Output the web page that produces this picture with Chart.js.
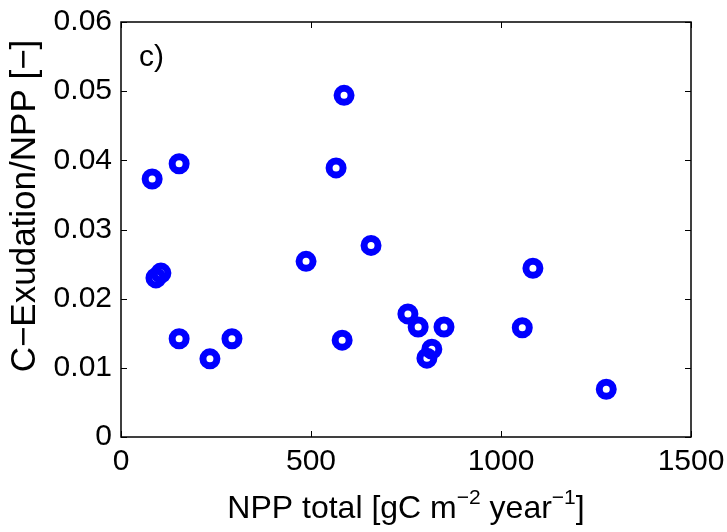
<!DOCTYPE html>
<html>
<head>
<meta charset="utf-8">
<script src="https://cdn.jsdelivr.net/npm/chart.js@4/dist/chart.umd.min.js"></script>
<style>
  html, body { margin: 0; padding: 0; background: #fff; }
  #wrap { width: 727px; height: 532px; }
</style>
</head>
<body>
<div id="wrap"><canvas id="myChart" width="727" height="532"></canvas></div>
<script>
// NPP total [gC m-2 year-1] and exudation fraction
var nppTotal = [82, 153, 92, 105, 153, 234, 292, 487, 582, 658, 587, 566, 755, 782, 850, 818, 805, 1056, 1084, 1277];
var exudFrac = [0.0373, 0.0395, 0.0230, 0.0237, 0.0142, 0.0113, 0.0142, 0.0254, 0.0140, 0.0277, 0.0494, 0.0389, 0.0178, 0.0159, 0.0159, 0.0127, 0.0114, 0.0158, 0.0244, 0.0069];
var xTicks = [0, 500, 1000, 1500];
var yTicks = [0, 0.01, 0.02, 0.03, 0.04, 0.05, 0.06];

var pts = nppTotal.map(function (x, i) { return { x: x, y: exudFrac[i] }; });
var FONT = "'Liberation Sans', Arial, Helvetica, sans-serif";

// box, inward ticks, panel label and axis titles
var boxPlugin = {
  id: 'boxPlugin',
  afterDraw: function (chart) {
    var c = chart.ctx, a = chart.chartArea;
    var xs = chart.scales.x, ys = chart.scales.y;
    var tl = 6;
    c.save();
    c.strokeStyle = '#000';
    c.lineWidth = 1.5;
    c.strokeRect(a.left, a.top, a.right - a.left, a.bottom - a.top);
    c.lineWidth = 1;
    c.beginPath();
    xTicks.forEach(function (v) {
      var px = Math.round(xs.getPixelForValue(v)) + 0.5;
      c.moveTo(px, a.bottom); c.lineTo(px, a.bottom - tl);
      c.moveTo(px, a.top); c.lineTo(px, a.top + tl);
    });
    yTicks.forEach(function (v) {
      var py = Math.round(ys.getPixelForValue(v)) + 0.5;
      c.moveTo(a.left, py); c.lineTo(a.left + tl, py);
      c.moveTo(a.right, py); c.lineTo(a.right - tl, py);
    });
    c.stroke();

    c.fillStyle = '#000';
    c.textBaseline = 'alphabetic';
    c.textAlign = 'left';
    c.font = '30px ' + FONT;
    c.fillText('c)', a.left + 18, 66);

    // x axis title with superscripts
    var big = '32px ' + FONT, small = '21px ' + FONT;
    var parts = [['NPP total [gC m', big, 0], ['\u22122', small, -14], [' year', big, 0], ['\u22121', small, -14], [']', big, 0]];
    var w = 0;
    parts.forEach(function (p) { c.font = p[1]; w += c.measureText(p[0]).width; });
    var x0 = (a.left + a.right) / 2 - w / 2, yb = 518;
    parts.forEach(function (p) {
      c.font = p[1];
      c.fillText(p[0], x0, yb + p[2]);
      x0 += c.measureText(p[0]).width;
    });

    // y axis title
    c.save();
    c.translate(35, 206);
    c.rotate(-Math.PI / 2);
    c.textAlign = 'center';
    c.font = '35px ' + FONT;
    c.fillText('C\u2212Exudation/NPP [\u2212]', 0, 0);
    c.restore();
    c.restore();
  }
};

var ctx = document.getElementById('myChart').getContext('2d');
var myChart = new Chart(ctx, {
  type: 'scatter',
  data: {
    datasets: [{
      data: pts,
      borderColor: '#0000ff',
      backgroundColor: 'rgba(0,0,0,0)',
      borderWidth: 7,
      pointRadius: 7,
      pointHoverRadius: 7
    }]
  },
  options: {
    responsive: false,
    animation: false,
    events: [],
    layout: { padding: { top: 22, right: 36, left: 0, bottom: 0 } },
    plugins: {
      legend: { display: false },
      tooltip: { enabled: false }
    },
    scales: {
      x: {
        type: 'linear',
        min: 0, max: 1500,
        afterBuildTicks: function (s) { s.ticks = xTicks.map(function (v) { return { value: v }; }); },
        grid: { display: false, drawTicks: false },
        border: { display: false },
        ticks: {
          color: '#000', font: { family: FONT, size: 30 }, padding: 7, maxRotation: 0,
          callback: function (v) { return String(v); }
        },
        afterFit: function (s) { s.height = 95; s.paddingLeft = 0; s.paddingRight = 0; }
      },
      y: {
        type: 'linear',
        min: 0, max: 0.06,
        afterBuildTicks: function (s) { s.ticks = yTicks.map(function (v) { return { value: v }; }); },
        grid: { display: false, drawTicks: false },
        border: { display: false },
        ticks: {
          color: '#000', font: { family: FONT, size: 30 }, padding: 9,
          callback: function (v) { return v === 0 ? '0' : v.toFixed(2); }
        },
        afterFit: function (s) { s.width = 121; s.paddingTop = 0; s.paddingBottom = 0; }
      }
    }
  },
  plugins: [boxPlugin]
});
</script>
</body>
</html>
